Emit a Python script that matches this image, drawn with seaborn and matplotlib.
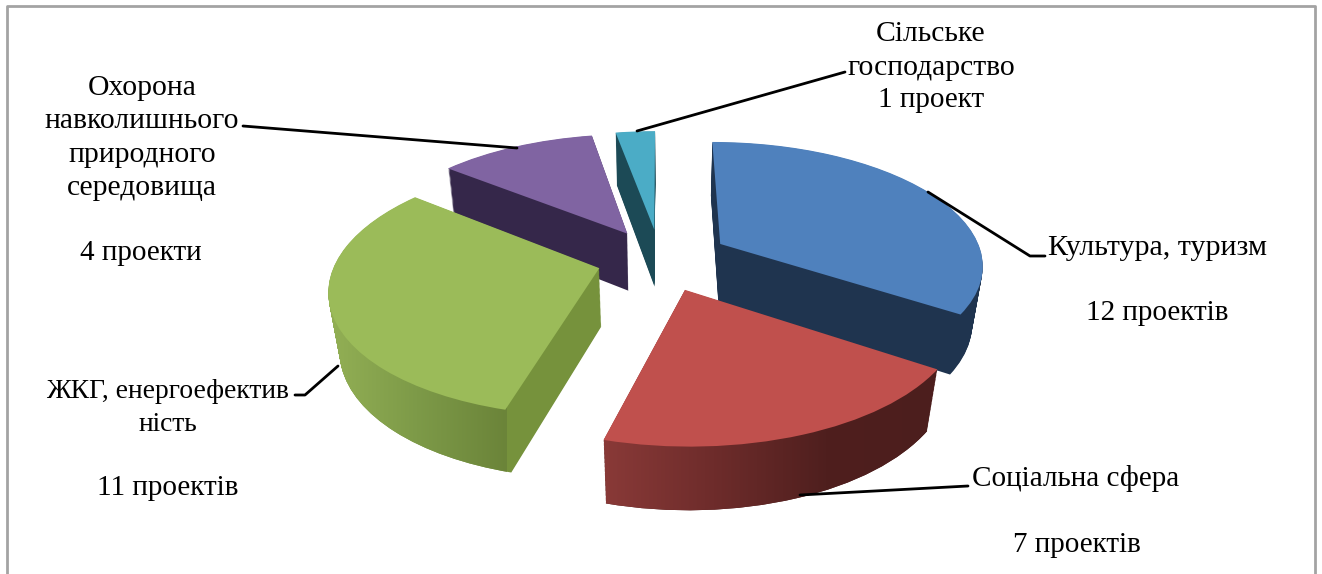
"""Експлодована 3D-діаграма проектів за сферами."""

import matplotlib

matplotlib.use("Agg")

import matplotlib.pyplot as plt
import numpy as np
import seaborn as sns
from matplotlib.path import Path
from matplotlib.transforms import IdentityTransform, Transform

# порядок за годинниковою стрілкою, починаючи від верху
sectors = ["Культура, туризм", "Соціальна сфера", "ЖКГ, енергоефектив\nність",
           "Охорона\nнавколишнього\nприродного\nсередовища", "Сільське\nгосподарство"]
projects = [12, 7, 11, 4, 1]
project_labels = ["12 проектів", "7 проектів", "11 проектів", "4 проекти", "1 проект"]
explode = [0.265, 0.26, 0.24, 0.25, 0.25]
top_colors = ["#4f81bd", "#c0504d", "#9bbb59", "#8064a2", "#4bacc6"]
side_colors = ["#1f344f", "#4f1f1e", "#76923c", "#35274a", "#1c4a56"]

CX, CY = 660, 259
RADIUS_X, RADIUS_Y = 263, 122
DEPTH = 60
CAMERA = 6.5
LAYERS = 50


class Tilt(Transform):
    """Проекція площини діаграми на рівні z у пікселі малюнка."""

    input_dims = output_dims = 2

    def __init__(self, z, base):
        super().__init__()
        self.z = z
        self.base = base

    def transform_non_affine(self, values):
        x, y = np.asarray(values).T
        scale = CAMERA / (CAMERA + y - 0.22 * self.z)
        px = CX + RADIUS_X * x * scale
        py = CY - (RADIUS_Y * y + DEPTH * self.z) * scale
        return self.base.transform(np.column_stack([px, py]))


def draw_pie(ax, z, colors):
    wedges, _ = ax.pie(projects, explode=explode, colors=colors, startangle=90,
                       counterclock=False, radius=1)
    for wedge in wedges:
        wedge.set_transform(Tilt(z, ax.transData))
        wedge.set_clip_on(False)
        wedge.set_linewidth(0)
    return wedges


def draw_gradient(ax, wedge_stack, colors, x_range):
    # градієнт на боковій стінці, обрізаний по витягнутому сектору
    paths = [w.get_transform().transform_path(w.get_path()) for w in wedge_stack]
    outline = Path.make_compound_path(*paths)
    cmap = sns.blend_palette(colors, as_cmap=True)
    image = ax.imshow(np.linspace(0, 1, 256)[None, :], cmap=cmap, aspect="auto",
                      extent=[*x_range, 574, 200], zorder=0.6)
    image.set_clip_path(outline, transform=IdentityTransform())


sns.set_theme(style="white")
plt.rcParams["font.family"] = ["Liberation Serif", "DejaVu Serif"]

fig = plt.figure(figsize=(13.22, 5.74), dpi=100, facecolor="white")
ax = fig.add_axes([0, 0, 1, 1])

stacks = [[] for _ in projects]
for z in np.linspace(-1, -0.01, LAYERS):
    for stack, wedge in zip(stacks, draw_pie(ax, z, side_colors)):
        wedge.set_zorder(0.5)
        stack.append(wedge)
for wedge in draw_pie(ax, 0, top_colors):
    wedge.set_zorder(1)

ax.set_aspect("auto")
ax.set_xlim(0, 1322)
ax.set_ylim(574, 0)
ax.set_frame_on(False)
fig.canvas.draw()

draw_gradient(ax, stacks[1], ["#8a3a38", "#6e2c2b", "#4f1f1e", "#4c1e1d"], (600, 940))
draw_gradient(ax, stacks[2], ["#93b055", "#7d9a48", "#6b8439"], (327, 507))
ax.set_xlim(0, 1322)
ax.set_ylim(574, 0)

# рамка області діаграми (низ обрізаний)
ax.plot([7, 7, 1315, 1315], [574, 6, 6, 574], color="#a3a3a3", lw=2, clip_on=False)

leaders = [
    ([928, 1030, 1045], [192, 256, 256]),
    ([800, 968], [495, 486]),
    ([295, 305, 338], [395, 395, 366]),
    ([243, 517], [126, 148]),
    ([637, 845], [131, 72]),
]
for xs, ys in leaders:
    ax.plot(xs, ys, color="black", lw=2, zorder=3)

name_pos = [(1157, 248), (1076, 478), (168, 408), (142, 138), (931, 51)]
count_pos = [(1157, 313), (1077, 545), (168, 488), (141, 253), (931, 100)]
name_sizes = [21.6, 21, 19.8, 21.3, 21.3]
for name, size, count, (nx, ny), (cx, cy) in zip(sectors, name_sizes, project_labels, name_pos, count_pos):
    ax.text(nx, ny, name, ha="center", va="center", fontsize=size, color="black",
            linespacing=1.38)
    ax.text(cx, cy, count, ha="center", va="center", fontsize=21, color="black")

fig.savefig("out.png", dpi=100)
